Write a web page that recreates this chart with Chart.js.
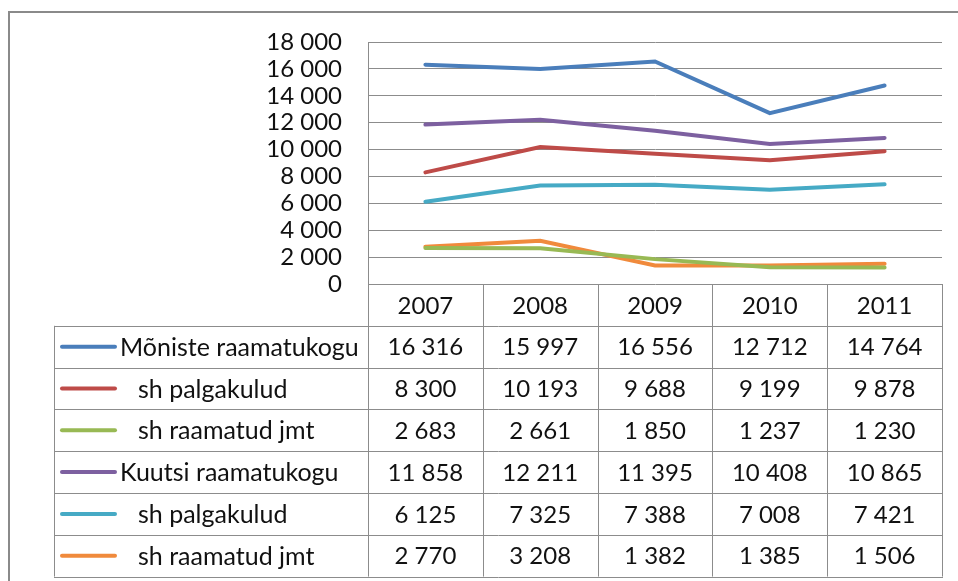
<!DOCTYPE html>
<html>
<head>
<meta charset="utf-8">
<script src="https://cdn.jsdelivr.net/npm/chart.js@4.4.0/dist/chart.umd.min.js"></script>
<style>
  html, body { margin: 0; padding: 0; background: #fff; }
  #wrap { position: relative; width: 958px; height: 581px; }
</style>
</head>
<body>
<div id="wrap"><canvas id="kulud" width="958" height="581"></canvas></div>
<script>
// Andmed
const aastad = ['2007', '2008', '2009', '2010', '2011'];
const moniste = [16316, 15997, 16556, 12712, 14764];
const monistePalk = [8300, 10193, 9688, 9199, 9878];
const monisteRaamatud = [2683, 2661, 1850, 1237, 1230];
const kuutsi = [11858, 12211, 11395, 10408, 10865];
const kuutsiPalk = [6125, 7325, 7388, 7008, 7421];
const kuutsiRaamatud = [2770, 3208, 1382, 1385, 1506];
const seeriaNimed = ['Mõniste raamatukogu', '   sh palgakulud', '   sh raamatud jmt',
                     'Kuutsi raamatukogu', '   sh palgakulud', '   sh raamatud jmt'];
const yTicks = [0, 2000, 4000, 6000, 8000, 10000, 12000, 14000, 16000, 18000];

const varvid = ['#4a7ebb', '#be4b48', '#98b954', '#7d60a0', '#46aac5', '#f08a3c'];
const FONT = '24px Lato';
const NIME_FONT = '25px Lato';
const JOON = '#8c8c8c';

function arv(n) {
    return String(n).replace(/\B(?=(\d{3})+(?!\d))/g, ' ');
}

const seeriad = [moniste, monistePalk, monisteRaamatud, kuutsi, kuutsiPalk, kuutsiRaamatud];

// Andmetabel graafiku all + välimine raam
const tabelPlugin = {
    id: 'andmetabel',
    afterDraw(chart) {
        const ctx = chart.ctx;
        const area = chart.chartArea;
        const x = chart.scales.x;
        const samm = x.getPixelForValue(1) - x.getPixelForValue(0);
        const tabelVasak = 54;
        const rida = 41.8;
        const ylemine = area.bottom;

        ctx.save();
        // välimine raam
        ctx.strokeStyle = '#8a8a8a';
        ctx.lineWidth = 2;
        ctx.beginPath();
        ctx.moveTo(9, 600);
        ctx.lineTo(9, 12);
        ctx.lineTo(970, 12);
        ctx.stroke();

        ctx.strokeStyle = JOON;
        ctx.lineWidth = 1;
        const veerud = aastad.map((a, i) => x.getPixelForValue(i) - samm / 2);
        veerud.push(area.right);
        const alumine = ylemine + rida * (seeriad.length + 1);

        ctx.beginPath();
        // vertikaalsed jooned
        veerud.forEach(v => {
            const vx = Math.round(v) + 0.5;
            ctx.moveTo(vx, ylemine);
            ctx.lineTo(vx, alumine);
        });
        ctx.moveTo(tabelVasak + 0.5, ylemine + rida);
        ctx.lineTo(tabelVasak + 0.5, alumine);
        // horisontaalsed jooned
        for (let r = 1; r <= seeriad.length + 1; r++) {
            const y = Math.round(ylemine + rida * r) + 0.5;
            ctx.moveTo(tabelVasak, y);
            ctx.lineTo(Math.round(area.right) + 1, y);
        }
        ctx.stroke();

        ctx.font = FONT;
        ctx.fillStyle = '#111';
        ctx.textBaseline = 'middle';
        ctx.textAlign = 'center';
        aastad.forEach((a, i) => {
            ctx.fillText(a, x.getPixelForValue(i), ylemine + rida / 2 + 1);
        });

        seeriad.forEach((s, r) => {
            const yc = ylemine + rida * (r + 1.5) + 1;
            // legendi võti
            ctx.strokeStyle = chart.data.datasets[r].borderColor;
            ctx.lineWidth = 4;
            ctx.lineCap = 'round';
            ctx.beginPath();
            ctx.moveTo(62, yc - 1);
            ctx.lineTo(115, yc - 1);
            ctx.stroke();

            ctx.textAlign = 'left';
            ctx.font = NIME_FONT;
            const nimi = seeriaNimed[r];
            const tx = nimi.startsWith(' ') ? 138 : 120;
            ctx.fillText(nimi.trim(), tx, yc);

            ctx.textAlign = 'center';
            ctx.font = FONT;
            s.forEach((v, i) => {
                ctx.fillText(arv(v), x.getPixelForValue(i), yc);
            });
        });
        ctx.restore();
    }
};

const ctx = document.getElementById('kulud').getContext('2d');
new Chart(ctx, {
    type: 'line',
    data: {
        labels: aastad,
        datasets: seeriad.map((s, i) => ({
            label: seeriaNimed[i].trim(),
            data: s,
            borderColor: varvid[i],
            backgroundColor: varvid[i],
            borderWidth: 4,
            pointRadius: 0,
            tension: 0,
            borderCapStyle: 'round'
        }))
    },
    options: {
        responsive: false,
        animation: false,
        events: [],
        layout: { padding: { top: 42, right: 16, bottom: 297, left: 0 } },
        plugins: { legend: { display: false }, tooltip: { enabled: false } },
        scales: {
            x: { display: false, offset: true },
            y: {
                min: 0,
                max: 18000,
                afterFit(scale) { scale.width = 368; },
                afterBuildTicks(scale) { scale.ticks = yTicks.map(v => ({ value: v })); },
                ticks: {
                    padding: 26,
                    autoSkip: false,
                    color: '#111',
                    font: { family: 'Lato', size: 24 },
                    callback: v => arv(v)
                },
                grid: { color: JOON, drawTicks: false, lineWidth: 1 },
                border: { color: JOON, width: 1 }
            }
        }
    },
    plugins: [tabelPlugin]
});
</script>
</body>
</html>
